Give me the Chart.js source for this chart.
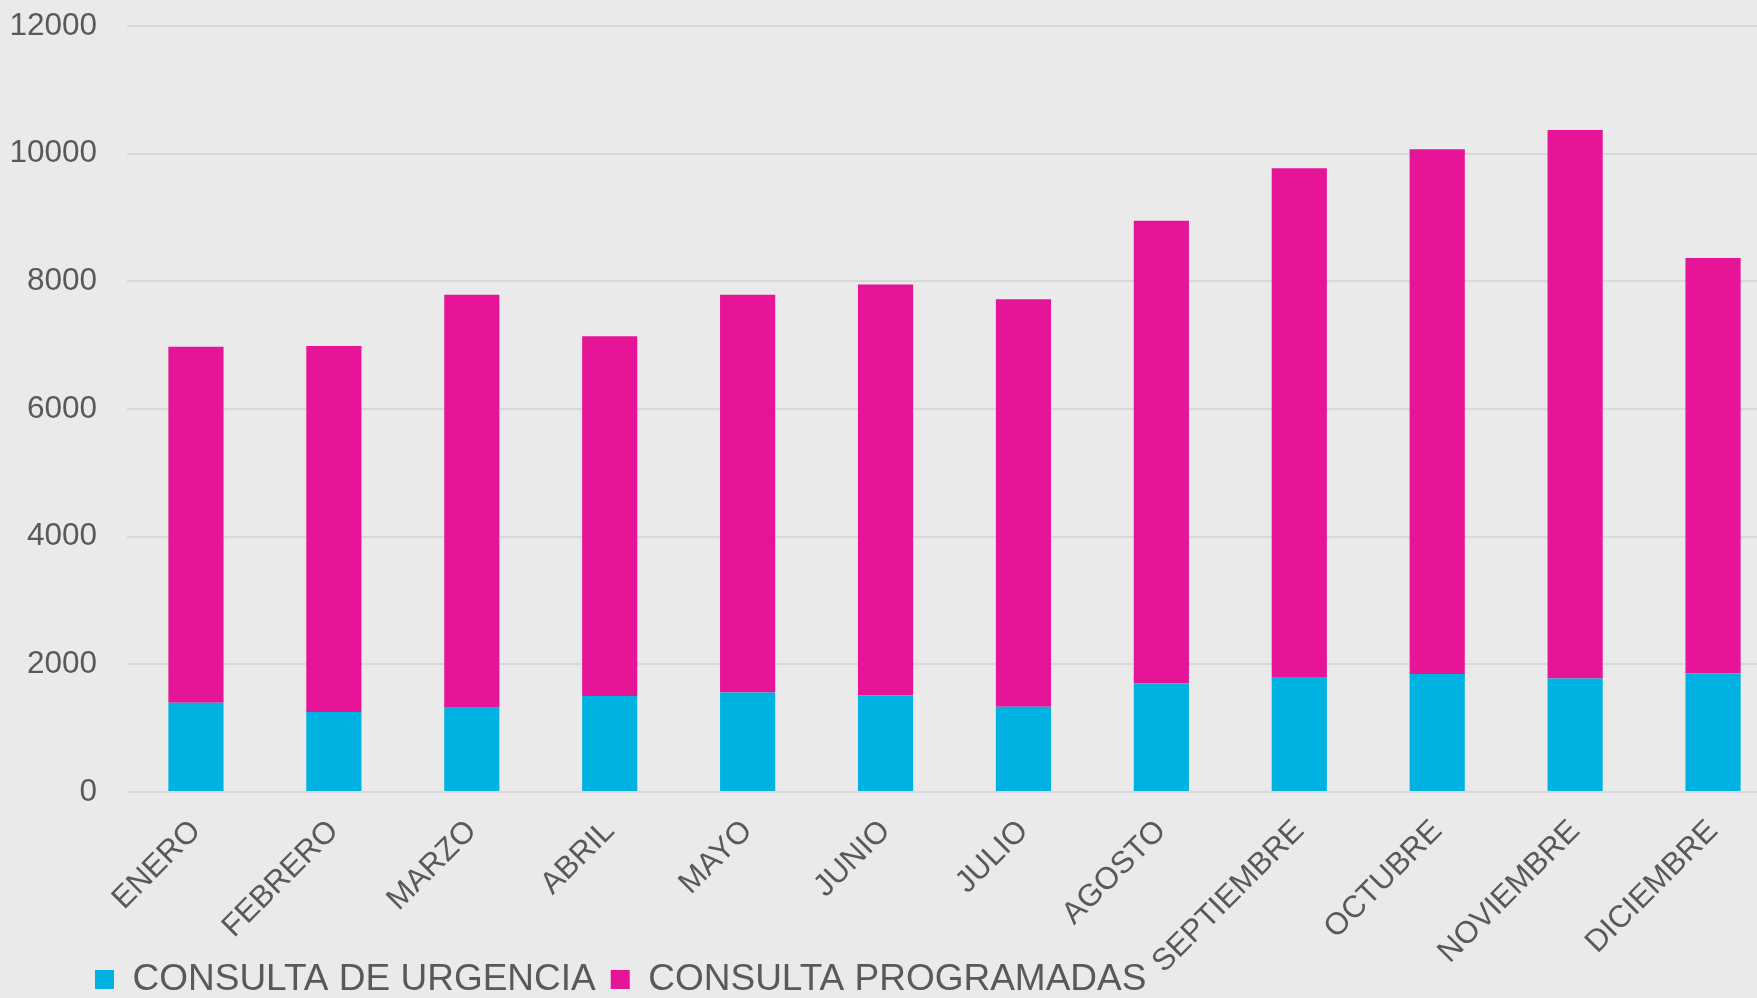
<!DOCTYPE html>
<html>
<head>
<meta charset="utf-8">
<script src="https://cdn.jsdelivr.net/npm/chart.js@4.4.1/dist/chart.umd.min.js"></script>
<style>
  html, body { margin: 0; padding: 0; background: #eaeaea; overflow: hidden; }
  #wrap { width: 1782px; height: 1060px; position: relative; }
</style>
</head>
<body>
<div id="wrap"><canvas id="myChart"></canvas></div>
<script>
const months = ["ENERO", "FEBRERO", "MARZO", "ABRIL", "MAYO", "JUNIO", "JULIO", "AGOSTO", "SEPTIEMBRE", "OCTUBRE", "NOVIEMBRE", "DICIEMBRE"];
const urgencia = [1400, 1255, 1320, 1505, 1560, 1510, 1335, 1700, 1790, 1850, 1780, 1860];
const programadas = [5575, 5730, 6470, 5635, 6230, 6440, 6385, 7250, 7980, 8220, 8590, 6505];
const yTicks = [0, 2000, 4000, 6000, 8000, 10000, 12000];

const textColor = "#595959";
const fontFamily = "'Liberation Sans', Arial, sans-serif";

// legend sits under the rotated month labels, so move it after layout
const legendMover = {
  id: "legendMover",
  afterLayout(chart) {
    const legend = chart.legend;
    const h = legend.height;
    legend.left = 80;
    legend.top = 946;
    legend.bottom = 946 + h;
  },
};

const ctx = document.getElementById("myChart").getContext("2d");

const myChart = new Chart(ctx, {
  type: "bar",
  data: {
    labels: months,
    datasets: [
      {
        label: "CONSULTA DE URGENCIA",
        data: urgencia,
        backgroundColor: "#00b2e1",
        barPercentage: 0.4,
        categoryPercentage: 1,
      },
      {
        label: "CONSULTA PROGRAMADAS",
        data: programadas,
        backgroundColor: "#e61496",
        barPercentage: 0.4,
        categoryPercentage: 1,
      },
    ],
  },
  plugins: [legendMover],
  options: {
    responsive: true,
    maintainAspectRatio: false,
    animation: false,
    layout: { padding: { left: 0, top: 26, right: 0, bottom: 0 } },
    plugins: {
      tooltip: { enabled: false },
      legend: {
        position: "bottom",
        align: "start",
        labels: {
          boxWidth: 19,
          boxHeight: 19,
          padding: 15,
          color: textColor,
          font: { family: fontFamily, size: 37 },
        },
      },
    },
    scales: {
      x: {
        stacked: true,
        grid: { display: false, drawTicks: false },
        border: { display: false },
        ticks: {
          color: textColor,
          font: { family: fontFamily, size: 31 },
          minRotation: 45,
          maxRotation: 45,
          padding: 21,
        },
        afterFit: (scale) => {
          scale.height = 206;
        },
      },
      y: {
        stacked: true,
        min: 0,
        max: 12000,
        afterBuildTicks: (scale) => {
          scale.ticks = yTicks.map((v) => ({ value: v }));
        },
        grid: {
          color: "#d9d9d9",
          lineWidth: 2,
          drawTicks: true,
          tickLength: 30,
          tickColor: "rgba(0,0,0,0)",
        },
        border: { display: false },
        ticks: {
          color: textColor,
          font: { family: fontFamily, size: 31.5 },
          padding: 0,
          callback: (value) => String(value),
        },
        afterFit: (scale) => {
          scale.width = 127;
        },
      },
    },
  },
});
</script>
</body>
</html>
